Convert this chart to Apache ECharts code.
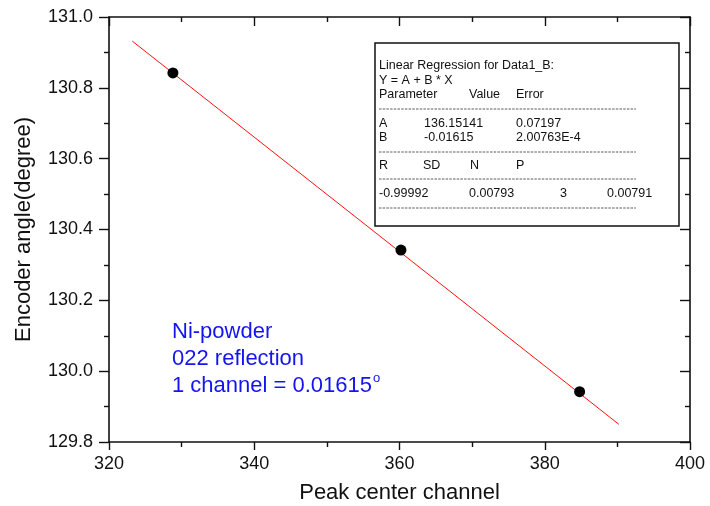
<!DOCTYPE html>
<html>
<head>
<meta charset="utf-8">
<script src="https://cdn.jsdelivr.net/npm/echarts@6/dist/echarts.min.js"></script>
<style>
html, body { margin: 0; padding: 0; background: #fff; }
#main { width: 710px; height: 506px; }
</style>
</head>
<body>
<div id="main"></div>
<script>
// measured points (peak center channel vs encoder angle)
const channels = [328.8, 360.2, 384.8];
const angles = [130.842, 130.342, 129.942];

// ends of the fitted line as drawn
const fitX = [323.2, 390.2];
const fitY = [130.932, 129.850];

const xTicks = [320, 340, 360, 380, 400];
const yTicks = [129.8, 130.0, 130.2, 130.4, 130.6, 130.8, 131.0];

const noteLines = ['Ni-powder', '022 reflection', '1 channel = 0.01615'];

// regression box rows: [text, x offset from box left]
const regRows = [
    [['Linear Regression for Data1_B:', 4]],
    [['Y = A + B * X', 4]],
    [['Parameter', 4], ['Value', 94], ['Error', 141]],
    '-',
    [['A', 4], ['136.15141', 49], ['0.07197', 141]],
    [['B', 4], ['-0.01615', 49], ['2.00763E-4', 141]],
    '-',
    [['R', 4], ['SD', 48], ['N', 95], ['P', 141]],
    '-',
    [['-0.99992', 4], ['0.00793', 94], ['3', 185], ['0.00791', 232]],
    '-'
];
const rowY = [66, 81, 95, 109, 124, 138, 152, 166, 179, 194, 208];

const font = 'Liberation Sans, Arial, sans-serif';

let chart = echarts.init(document.getElementById('main'));

const boxLeft = 375, boxTop = 43, boxW = 304, boxH = 183;

let graphics = [{
    type: 'rect',
    shape: { x: boxLeft, y: boxTop, width: boxW, height: boxH },
    style: { fill: '#fff', stroke: '#111', lineWidth: 1.5 },
    z: 100
}];

regRows.forEach((row, i) => {
    if (row === '-') {
        graphics.push({
            type: 'line',
            shape: { x1: boxLeft + 4, y1: rowY[i], x2: boxLeft + 261, y2: rowY[i] },
            style: { stroke: '#333', lineWidth: 0.8, lineDash: [2.5, 1.2] },
            z: 101
        });
        return;
    }
    row.forEach(cell => {
        graphics.push({
            type: 'text',
            x: boxLeft + cell[1],
            y: rowY[i],
            style: { text: cell[0], font: '12.5px ' + font, fill: '#111', verticalAlign: 'middle' },
            z: 101
        });
    });
});

// blue note
graphics.push({
    type: 'text',
    x: 172,
    y: 318,
    style: {
        text: noteLines[0] + '\n' + noteLines[1] + '\n' + noteLines[2] + '{sup|o}',
        font: '22px ' + font,
        fill: '#1414f0',
        lineHeight: 27,
        rich: {
            sup: { fontSize: 13, fontFamily: font, fill: '#1414f0', verticalAlign: 'top', lineHeight: 27, padding: [0, 0, 10, 1] }
        }
    },
    z: 50
});

let option = {
    animation: false,
    backgroundColor: '#fff',
    grid: { left: 109, right: 20, top: 17, bottom: 64, outerBoundsMode: 'none', containLabel: false },
    xAxis: [{
        type: 'value',
        min: xTicks[0],
        max: xTicks[xTicks.length - 1],
        interval: 20,
        name: 'Peak center channel',
        nameLocation: 'middle',
        nameGap: 40,
        nameTextStyle: { fontSize: 22, fontFamily: font, color: '#111' },
        axisLine: { onZero: false, lineStyle: { color: '#111', width: 1.6 } },
        axisTick: { length: 8, lineStyle: { color: '#111', width: 1.4 } },
        minorTick: { show: true, splitNumber: 2, length: 5, lineStyle: { color: '#111', width: 1.4 } },
        axisLabel: { fontSize: 18, fontFamily: font, color: '#111', margin: 13 },
        splitLine: { show: false }
    }, {
        type: 'value',
        position: 'top',
        min: xTicks[0],
        max: xTicks[xTicks.length - 1],
        interval: 20,
        axisLine: { onZero: false, lineStyle: { color: '#111', width: 1.6 } },
        axisTick: { inside: true, length: 9, lineStyle: { color: '#111', width: 1.4 } },
        minorTick: { show: true, splitNumber: 2, length: 5, lineStyle: { color: '#111', width: 1.4 } },
        axisLabel: { show: false },
        splitLine: { show: false }
    }],
    yAxis: [{
        type: 'value',
        min: yTicks[0],
        max: yTicks[yTicks.length - 1],
        interval: 0.2,
        name: 'Encoder angle(degree)',
        nameLocation: 'middle',
        nameGap: 74,
        nameTextStyle: { fontSize: 22, fontFamily: font, color: '#111' },
        axisLine: { show: true, onZero: false, lineStyle: { color: '#111', width: 1.6 } },
        axisTick: { show: true, length: 10, lineStyle: { color: '#111', width: 1.4 } },
        minorTick: { show: true, splitNumber: 2, length: 5, lineStyle: { color: '#111', width: 1.4 } },
        axisLabel: { fontSize: 18, fontFamily: font, color: '#111', margin: 16, formatter: v => v.toFixed(1) },
        splitLine: { show: false }
    }, {
        type: 'value',
        position: 'right',
        min: yTicks[0],
        max: yTicks[yTicks.length - 1],
        interval: 0.2,
        axisLine: { show: true, onZero: false, lineStyle: { color: '#111', width: 1.6 } },
        axisTick: { show: true, inside: true, length: 10, lineStyle: { color: '#111', width: 1.4 } },
        minorTick: { show: true, splitNumber: 2, length: 5, lineStyle: { color: '#111', width: 1.4 } },
        axisLabel: { show: false },
        splitLine: { show: false }
    }],
    series: [{
        name: 'fit',
        type: 'line',
        data: fitX.map((x, i) => [x, fitY[i]]),
        showSymbol: false,
        symbol: 'none',
        lineStyle: { color: '#ff1010', width: 1 },
        z: 2
    }, {
        name: 'data',
        type: 'scatter',
        data: channels.map((x, i) => [x, angles[i]]),
        symbolSize: 11,
        itemStyle: { color: '#000', opacity: 1 },
        z: 3
    }],
    graphic: graphics
};

chart.setOption(option);
</script>
</body>
</html>
